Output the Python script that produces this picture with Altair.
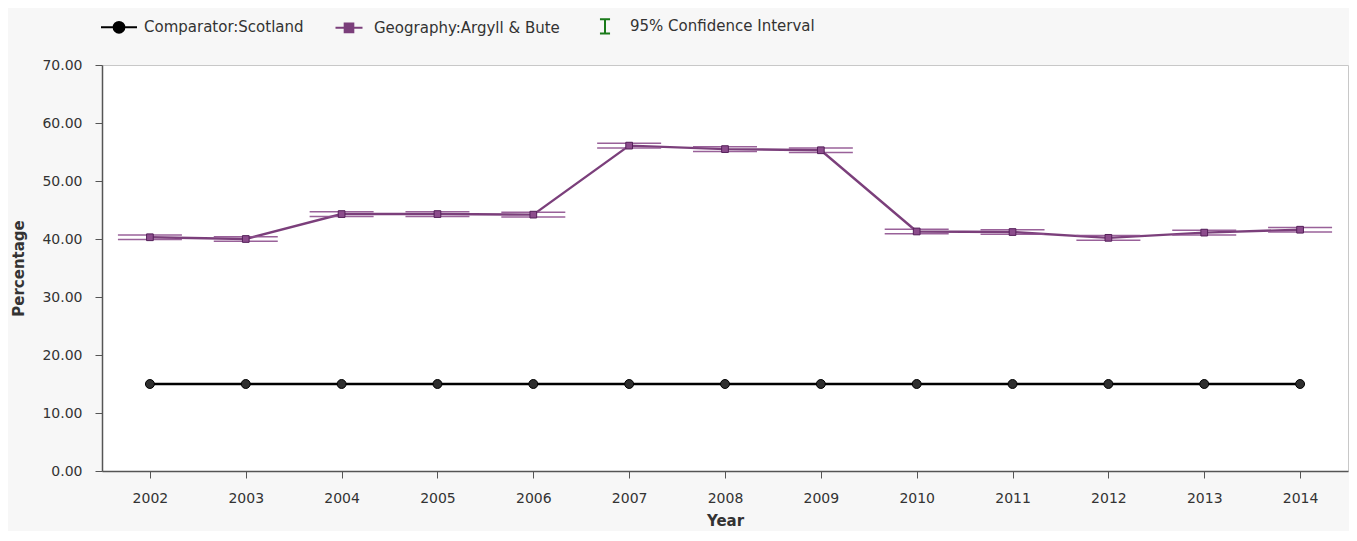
import altair as alt
import pandas as pd
import numpy as np

years = [2002, 2003, 2004, 2005, 2006, 2007, 2008, 2009, 2010, 2011, 2012, 2013, 2014]
scotland = [15.0, 15.0, 15.0, 15.0, 15.0, 15.0, 15.0, 15.0, 15.0, 15.0, 15.0, 15.0, 15.0]
argyll = [40.3, 40.0, 44.3, 44.3, 44.2, 56.1, 55.5, 55.3, 41.3, 41.2, 40.2, 41.1, 41.6]
ci_upper = [40.7, 40.4, 44.7, 44.7, 44.6, 56.5, 55.9, 55.7, 41.7, 41.6, 40.6, 41.5, 42.0]
ci_lower = [39.9, 39.6, 43.9, 43.9, 43.8, 55.7, 55.1, 54.9, 40.9, 40.8, 39.8, 40.7, 41.2]
legend_labels = ["Comparator:Scotland", "Geography:Argyll & Bute", "95% Confidence Interval"]
y_ticks = [0, 10, 20, 30, 40, 50, 60, 70]

PURPLE = "#7b3f7b"
FONT = "DejaVu Sans"

df = pd.DataFrame({
    "Year": [str(y) for y in years],
    "Scotland": scotland,
    "Argyll": argyll,
    "Upper": ci_upper,
    "Lower": ci_lower,
})

x_enc = alt.X("Year:O", title="Year",
              scale=alt.Scale(type="point", padding=0.5),
              axis=alt.Axis(labelAngle=0))
y_scale = alt.Scale(domain=[0, 70], nice=False)
y_axis = alt.Axis(values=y_ticks, format=".2f", title="Percentage", grid=False)

base = alt.Chart(df)

scot_line = base.mark_line(color="#000000", strokeWidth=2.5).encode(
    x=x_enc, y=alt.Y("Scotland:Q", scale=y_scale, axis=y_axis))
scot_pts = base.mark_circle(size=80, color="#2e2e2e", stroke="#000000",
                            strokeWidth=1, opacity=1).encode(
    x=x_enc, y=alt.Y("Scotland:Q", scale=y_scale))

arg_line = base.mark_line(color=PURPLE, strokeWidth=2.4).encode(
    x=x_enc, y=alt.Y("Argyll:Q", scale=y_scale))

ci_rule = base.mark_rule(color=PURPLE, strokeWidth=1.2).encode(
    x=x_enc, y=alt.Y("Lower:Q", scale=y_scale), y2="Upper:Q")
ci_up = base.mark_tick(color="#8e508e", size=64, thickness=1.5, opacity=0.9).encode(
    x=x_enc, y=alt.Y("Upper:Q", scale=y_scale))
ci_lo = base.mark_tick(color="#8e508e", size=64, thickness=1.5, opacity=0.9).encode(
    x=x_enc, y=alt.Y("Lower:Q", scale=y_scale))

arg_pts = base.mark_square(size=45, fill="#8c4c8c", stroke="#55205a",
                           strokeWidth=1, opacity=1).encode(
    x=x_enc, y=alt.Y("Argyll:Q", scale=y_scale))

# legend layer (no drawn points: value is missing)
leg_df = pd.DataFrame({
    "series": legend_labels,
    "Year": [str(years[0])] * len(legend_labels),
    "v": [np.nan] * len(legend_labels),
})
shape_paths = [
    "M-1,0L1,0M0.3,0A0.3,0.3,0,1,1,-0.3,0A0.3,0.3,0,1,1,0.3,0Z",
    "M-0.75,0L0.75,0M-0.24,-0.24L0.24,-0.24L0.24,0.24L-0.24,0.24Z",
    "M-0.28,-0.4L0.28,-0.4M0,-0.4L0,0.4M-0.28,0.4L0.28,0.4",
]
legend = alt.Legend(title=None, orient="none", legendX=-2, legendY=-58,
                    direction="horizontal", symbolSize=1296, symbolStrokeWidth=2,
                    labelFontSize=15, labelFont=FONT, labelColor="#333333",
                    labelLimit=0, columnPadding=26, labelOffset=6)
leg = alt.Chart(leg_df).mark_point(filled=True, opacity=1).encode(
    x=x_enc,
    y=alt.Y("v:Q", scale=y_scale),
    fill=alt.Fill("series:N", scale=alt.Scale(domain=legend_labels,
                  range=["#000000", PURPLE, "#ffffff"]), legend=legend),
    stroke=alt.Stroke("series:N", scale=alt.Scale(domain=legend_labels,
                      range=["#000000", PURPLE, "#1a7a1a"]), legend=legend),
    shape=alt.Shape("series:N", scale=alt.Scale(domain=legend_labels,
                    range=shape_paths), legend=legend),
)

chart = alt.layer(ci_rule, scot_line, arg_line, ci_up, ci_lo, scot_pts, arg_pts, leg).properties(
    width=1246, height=406,
    padding={"left": 94, "top": 57, "right": 1, "bottom": 60},
    autosize=alt.AutoSizeParams(type="none"),
    background="#f7f7f7",
).configure_view(
    fill="#ffffff", stroke="#c8c8c8", strokeWidth=1
).configure_axis(
    labelFont=FONT, titleFont=FONT, labelFontSize=14, titleFontSize=15,
    labelColor="#333333", titleColor="#333333", titleFontWeight="bold",
    domainColor="#555555", tickColor="#555555", tickSize=7, domainWidth=1.5,
).configure_axisY(
    labelPadding=13, titlePadding=15
).configure_axisX(
    labelPadding=13, titlePadding=8
)

chart.save("out.html", embed_options={"renderer": "svg", "actions": False})
